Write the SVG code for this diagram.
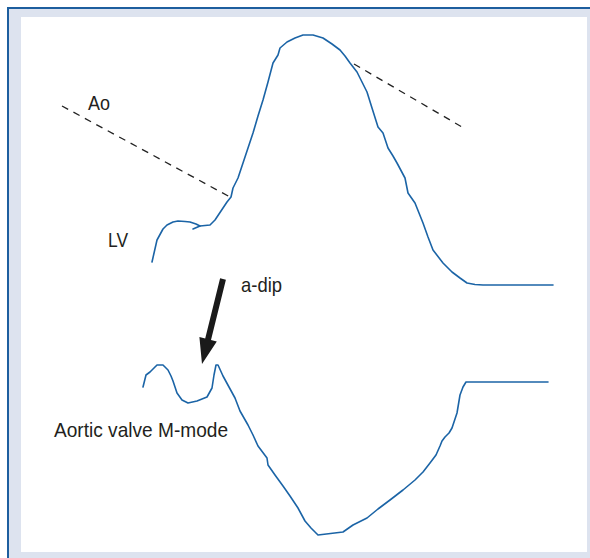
<svg xmlns="http://www.w3.org/2000/svg" width="590" height="558" viewBox="0 0 590 558">
<style>
.trace{fill:none;stroke:#1b64a6;stroke-width:1.6;stroke-linejoin:round;stroke-linecap:round}
.dash{fill:none;stroke:#222;stroke-width:1.3;stroke-dasharray:7 6}
.lbl{font-family:"Liberation Sans",Arial,sans-serif;font-size:21px;fill:#231f20}
</style>
<rect x="0" y="0" width="590" height="558" fill="#ffffff"/>
<rect x="8" y="8" width="582" height="550" fill="#dde3ef"/>
<rect x="21" y="17" width="566" height="535" fill="#ffffff"/>
<path d="M8 558 V8 H590" fill="none" stroke="#1d5e9e" stroke-width="2"/>
<g id="lv-ao-trace">
<path class="trace" d="M152 262 L157 240 L163 229 L167 225 L173 222 L178 221 L185 221.5 L190 222 L196 224 L200 226 L205 225.5 L210 225 L215 220 L219 214 L223 208 L227 202 L231 197 L233 188 L238 178 L243 163 L248 148 L253 133 L258 116 L263 100 L268 82 L273 63 L278 55 L280 48 L287 42 L295 38 L303 35 L313 35 L323 38 L332 44 L340 50 L345 56 L350 63 L357 72 L362 82 L367 92 L372 108 L378 127 L383 133 L388 148 L393 156 L397 163 L405 178 L408 193 L415 203 L419 213 L423 223 L428 237 L433 250 L443 263 L452 272 L460 278 L467 283 L475 284.5 L483 285 L553 285"/>
<path class="trace" d="M193 229 L200 226"/>
</g>
<g id="av-mmode-trace">
<path class="trace" d="M143 387 L146 375 L150 372 L154 368 L157 365 L163 365 L168 370 L171 376 L173 381 L177 393 L182 400 L188 403 L197 401 L207 397 L212 388 L214 375 L216 365 L218 365 L223 376 L229 387 L235 398 L240 411 L248 425 L253 435 L258 446 L267 458 L268 465 L275 475 L283 486 L290 496 L298 508 L305 521 L311 528 L318 535 L343 532 L353 525 L367 518 L378 509 L390 500 L403 490 L415 480 L423 472 L430 463 L436 455 L440 446 L442 441 L445 437 L449 433 L452 428 L457 413 L460 395 L463 387 L466 382 L548 382"/>
</g>
<g id="connectors">
<path class="dash" d="M62 106 L230 197"/>
<path class="dash" d="M354 64 L462 127"/>
<polygon id="a-dip-arrow" points="225.9,279.7 220.1,278.3 205.2,338.5 199.4,337 202,364 216.8,341.4 211,339.9" fill="#1a1a1a"/>
</g>
<g id="label-ao"><text class="lbl" x="88" y="110" textLength="22" lengthAdjust="spacingAndGlyphs">Ao</text></g>
<g id="label-lv"><text class="lbl" x="108" y="247" textLength="20" lengthAdjust="spacingAndGlyphs">LV</text></g>
<g id="label-adip"><text class="lbl" x="241" y="292" textLength="41" lengthAdjust="spacingAndGlyphs">a-dip</text></g>
<g id="label-avm"><text class="lbl" x="54" y="437" textLength="174" lengthAdjust="spacingAndGlyphs">Aortic valve M-mode</text></g>
</svg>
